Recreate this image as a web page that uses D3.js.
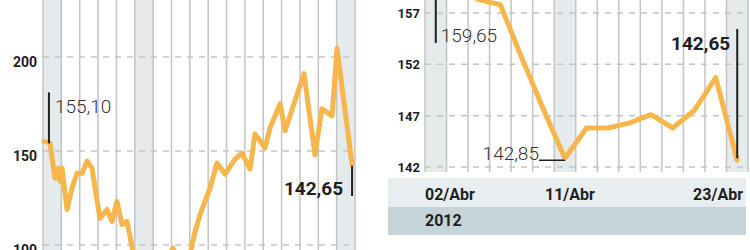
<!DOCTYPE html>
<html>
<head>
<meta charset="utf-8">
<script src="https://cdn.jsdelivr.net/npm/d3@7"></script>
<style>
  body { margin: 0; background: #fff; }
  svg { display: block; font-family: Roboto, "Open Sans", sans-serif; }
</style>
</head>
<body>
<svg width="750" height="250"></svg>
<script>
// long-range panel: position in grid columns, price
const leftPos = [0.05, 0.38, 0.65, 0.82, 0.93, 1.04, 1.31, 1.58, 1.85, 2.13, 2.4, 2.67, 3.1, 3.49, 3.76, 4.03, 4.3, 4.58, 4.9, 5.29, 5.83, 6.38, 6.65, 7.08, 7.47, 8.0, 8.28, 8.56, 8.83, 9.1, 9.48, 9.92, 10.46, 10.84, 11.28, 11.55, 12.1, 12.37, 12.92, 13.19, 14.22, 14.82, 15.2, 15.75, 16.02, 16.84];
const leftVal = [155.1, 154.3, 135.5, 140.9, 133.9, 140.9, 118.9, 130.2, 138.2, 138.2, 144.6, 140.9, 114.1, 118.9, 112.5, 123.2, 110.9, 112.5, 96.4, 88.4, 83, 85.8, 91.5, 98.3, 90.8, 94.6, 106.9, 116.3, 123.2, 130.2, 143.6, 137.7, 145.7, 148.9, 140.4, 159.1, 151.6, 162.3, 175.2, 160.7, 191.2, 147.9, 172.5, 168.7, 204.6, 142.65];
const leftTicks = [100, 150, 200];
const leftShaded = [0, 5, 16];

// April 2012 panel
const days = ["02/Abr", "03/Abr", "04/Abr", "05/Abr", "09/Abr", "10/Abr", "11/Abr", "12/Abr", "13/Abr", "16/Abr", "17/Abr", "18/Abr", "19/Abr", "20/Abr", "23/Abr"];
const rightVal = [159.65, 159.3, 158.3, 157.8, 152.6, 147.6, 142.85, 145.8, 145.8, 146.3, 147.1, 145.8, 147.5, 150.7, 142.65];
const rightTicks = [142, 147, 152, 157];
const dayLabels = ["02/Abr", "11/Abr", "23/Abr"];
const yearLabel = "2012";

const ORANGE = "#f6b64c",
  GRID = "#c4c4c4",
  SHADE = "#e5eaed",
  INK = "#1e1e1e";

const fmt = v => d3.format(".2f")(v).replace(".", ",");

const svg = d3.select("svg");

// ---------- left panel ----------
const xL = d3.scaleLinear().domain([0, 17]).range([43, 355]);
const yL = d3.scaleLinear().domain([100, 200]).range([245, 57]);

const gL = svg.append("g");
gL.selectAll(".shade")
  .data(leftShaded)
  .enter()
  .append("rect")
  .attr("x", d => xL(d))
  .attr("width", xL(1) - xL(0))
  .attr("y", 0)
  .attr("height", 250)
  .attr("fill", SHADE);

gL.selectAll(".vline")
  .data(d3.range(18))
  .enter()
  .append("line")
  .attr("x1", d => xL(d))
  .attr("x2", d => xL(d))
  .attr("y1", 0)
  .attr("y2", 250)
  .attr("stroke", GRID)
  .attr("stroke-width", 1.5);

gL.selectAll(".hline")
  .data(leftTicks)
  .enter()
  .append("line")
  .attr("x1", xL(0))
  .attr("x2", xL(17))
  .attr("y1", d => yL(d))
  .attr("y2", d => yL(d))
  .attr("stroke", GRID)
  .attr("stroke-width", 1.5)
  .attr("stroke-dasharray", "6,6");

gL.selectAll(".tick")
  .data(leftTicks)
  .enter()
  .append("text")
  .attr("x", 37)
  .attr("y", d => yL(d) + 10)
  .attr("text-anchor", "end")
  .attr("font-size", 14)
  .attr("font-weight", "bold")
  .attr("fill", INK)
  .text(d => d);

const lineL = d3.line()
  .x((d, i) => xL(leftPos[i]))
  .y(d => yL(d));

gL.append("path")
  .attr("d", lineL(leftVal))
  .attr("fill", "none")
  .attr("stroke", ORANGE)
  .attr("stroke-width", 5)
  .attr("stroke-linejoin", "round")
  .attr("stroke-linecap", "round");

// first / last annotations
const x0 = xL(leftPos[0]) + 5;
gL.append("line")
  .attr("x1", x0).attr("x2", x0)
  .attr("y1", yL(leftVal[0]) - 49).attr("y2", yL(leftVal[0]) + 2)
  .attr("stroke", INK).attr("stroke-width", 2);
gL.append("text")
  .attr("x", x0 + 6).attr("y", 113)
  .attr("font-size", 19).attr("font-weight", 300).attr("fill", "#333")
  .text(fmt(leftVal[0]));

const xe = xL(leftPos[leftPos.length - 1]);
gL.append("line")
  .attr("x1", xe).attr("x2", xe)
  .attr("y1", yL(leftVal[leftVal.length - 1]) + 1).attr("y2", 196)
  .attr("stroke", INK).attr("stroke-width", 2);
gL.append("text")
  .attr("x", xe - 9).attr("y", 195)
  .attr("text-anchor", "end")
  .attr("font-size", 19).attr("font-weight", "bold").attr("fill", INK)
  .text(fmt(leftVal[leftVal.length - 1]));

// ---------- right panel ----------
const xR = d3.scaleBand().domain(days).range([425, 748]);
const yR = d3.scaleLinear().domain([142, 157]).range([167, 13]);
const cx = d => xR(d) + xR.bandwidth() / 2;

const gR = svg.append("g");
gR.selectAll(".shade")
  .data(dayLabels)
  .enter()
  .append("rect")
  .attr("x", d => xR(d))
  .attr("width", xR.bandwidth())
  .attr("y", 0)
  .attr("height", 172)
  .attr("fill", SHADE);

gR.selectAll(".vline")
  .data(d3.range(days.length + 1))
  .enter()
  .append("line")
  .attr("x1", d => 425 + d * xR.step())
  .attr("x2", d => 425 + d * xR.step())
  .attr("y1", 0)
  .attr("y2", 172)
  .attr("stroke", GRID)
  .attr("stroke-width", 1.5);

gR.selectAll(".hline")
  .data(rightTicks)
  .enter()
  .append("line")
  .attr("x1", 425)
  .attr("x2", 748)
  .attr("y1", d => yR(d))
  .attr("y2", d => yR(d))
  .attr("stroke", GRID)
  .attr("stroke-width", 1.5)
  .attr("stroke-dasharray", "6,6");

gR.selectAll(".tick")
  .data(rightTicks)
  .enter()
  .append("text")
  .attr("x", 420)
  .attr("y", d => yR(d) + 5)
  .attr("text-anchor", "end")
  .attr("font-size", 13)
  .attr("font-weight", "bold")
  .attr("fill", INK)
  .text(d => d);

const lineR = d3.line()
  .x((d, i) => cx(days[i]))
  .y(d => yR(d));

gR.append("path")
  .attr("d", lineR(rightVal))
  .attr("fill", "none")
  .attr("stroke", ORANGE)
  .attr("stroke-width", 5)
  .attr("stroke-linejoin", "round")
  .attr("stroke-linecap", "round");

// first value
gR.append("line")
  .attr("x1", cx(days[0])).attr("x2", cx(days[0]))
  .attr("y1", 0).attr("y2", 43)
  .attr("stroke", INK).attr("stroke-width", 2);
gR.append("text")
  .attr("x", cx(days[0]) + 5).attr("y", 42)
  .attr("font-size", 19).attr("font-weight", 300).attr("fill", "#333")
  .text(fmt(rightVal[0]));

// minimum of the month (before the last day)
const iMin = d3.minIndex(rightVal.slice(0, -1));
gR.append("line")
  .attr("x1", cx(days[iMin]) - 26).attr("x2", cx(days[iMin]))
  .attr("y1", yR(rightVal[iMin]) + 2).attr("y2", yR(rightVal[iMin]) + 2)
  .attr("stroke", INK).attr("stroke-width", 1.5);
gR.append("text")
  .attr("x", cx(days[iMin]) - 26).attr("y", 160)
  .attr("text-anchor", "end")
  .attr("font-size", 19).attr("font-weight", 300).attr("fill", "#333")
  .text(fmt(rightVal[iMin]));

// last value
const iLast = rightVal.length - 1;
gR.append("line")
  .attr("x1", cx(days[iLast])).attr("x2", cx(days[iLast]))
  .attr("y1", 29).attr("y2", yR(rightVal[iLast]) - 2)
  .attr("stroke", INK).attr("stroke-width", 2);
gR.append("text")
  .attr("x", cx(days[iLast]) - 7).attr("y", 50)
  .attr("text-anchor", "end")
  .attr("font-size", 19).attr("font-weight", "bold").attr("fill", INK)
  .text(fmt(rightVal[iLast]));

// date bands
svg.append("rect")
  .attr("x", 388).attr("y", 178).attr("width", 358).attr("height", 29)
  .attr("fill", "#e8edef");
svg.append("rect")
  .attr("x", 388).attr("y", 207).attr("width", 358).attr("height", 28)
  .attr("fill", "#c5d4d9");

svg.selectAll(".day")
  .data(dayLabels)
  .enter()
  .append("text")
  .attr("x", (d, i) => i === 0 ? xR(d) : i === dayLabels.length - 1 ? xR(d) + xR.bandwidth() - 5 : cx(d) + 5)
  .attr("y", 200)
  .attr("text-anchor", (d, i) => i === 0 ? "start" : i === dayLabels.length - 1 ? "end" : "middle")
  .attr("font-size", 16)
  .attr("font-weight", "bold")
  .attr("fill", INK)
  .text(d => d);

svg.append("text")
  .attr("x", xR(days[0])).attr("y", 226)
  .attr("font-size", 16).attr("font-weight", "bold").attr("fill", INK)
  .text(yearLabel);
</script>
</body>
</html>
